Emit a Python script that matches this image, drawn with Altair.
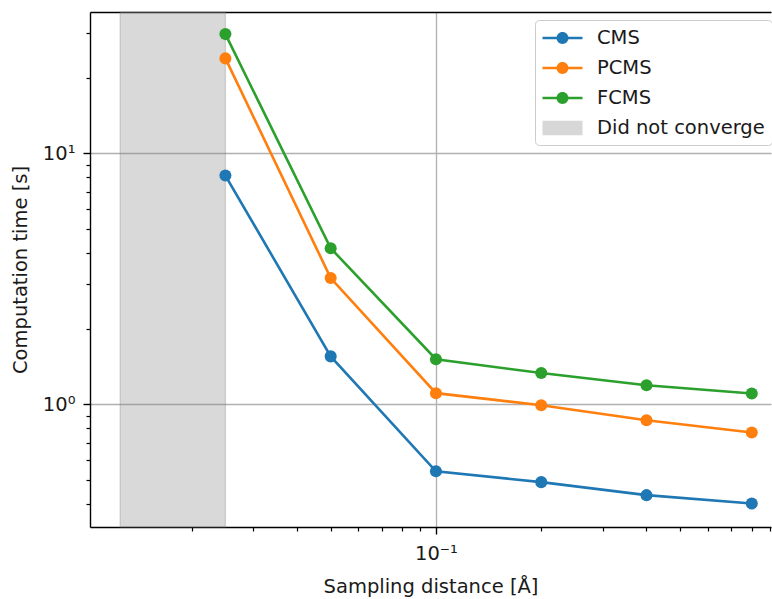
import altair as alt
import pandas as pd

# ---- data ----
sampling = [0.025, 0.05, 0.1, 0.2, 0.4, 0.8]
cms = [8.14, 1.55, 0.540, 0.489, 0.434, 0.402]
pcms = [23.85, 3.18, 1.106, 0.99, 0.863, 0.771]
fcms = [29.8, 4.18, 1.51, 1.33, 1.19, 1.103]
series_names = ["CMS", "PCMS", "FCMS"]
span_label = "Did not converge"
span_start = [0.0125]
span_end = [0.025]

x_major = [0.1]
x_minor = [0.02, 0.03, 0.04, 0.05, 0.06, 0.07, 0.08, 0.09,
           0.2, 0.3, 0.4, 0.5, 0.6, 0.7, 0.8, 0.9]
y_major = [1, 10]
y_minor = [0.4, 0.5, 0.6, 0.7, 0.8, 0.9,
           2, 3, 4, 5, 6, 7, 8, 9, 20, 30]

# ---- styles ----
series_colors = ["#1f77b4", "#ff7f0e", "#2ca02c"]
legend_span_color = "#d7d7d7"
span_color = "#808080"
FONT = "DejaVu Sans"
FS = 19.5
TXT = "#1a1a1a"

# legend handles (unit square scaled by 11 px; drawn 40 px wide)
line_sym = ("M-0.955,-0.118H2.682V0.118H-0.955Z "
            "M1.409,0A0.545,0.545,0,1,1,0.319,0A0.545,0.545,0,1,1,1.409,0Z")
rect_sym = "M-0.955,-0.655H2.682V0.655H-0.955Z"

rows = []
for name, vals in zip(series_names, [cms, pcms, fcms]):
    for xv, yv in zip(sampling, vals):
        rows.append({"d": xv, "t": yv, "series": name})
df = pd.DataFrame(rows)
span_df = pd.DataFrame({"start": span_start, "end": span_end})
legend_df = pd.DataFrame({"series": series_names + [span_label]})

x_scale = alt.Scale(type="log", domain=[0.01025, 0.908], nice=False)
y_scale = alt.Scale(type="log", domain=[0.324, 36.5], nice=False)
line_color_scale = alt.Scale(domain=series_names, range=series_colors)
legend_color_scale = alt.Scale(domain=series_names + [span_label],
                               range=series_colors + [legend_span_color])
shape_scale = alt.Scale(domain=series_names + [span_label],
                        range=[line_sym, line_sym, line_sym, rect_sym])

common_axis = dict(domainColor="black", domainWidth=1.4, tickColor="black",
                   tickWidth=1.4, labelFont=FONT, labelFontSize=FS,
                   labelColor=TXT, titleFont=FONT, titleFontSize=FS,
                   titleFontWeight="normal", titleColor=TXT,
                   labelFlush=False, labelOverlap=False)

x_major_axis = alt.Axis(orient="bottom", values=x_major,
                        labelExpr="'10⁻¹'", grid=True, gridColor="#b0b0b0",
                        gridWidth=1.3, tickSize=7, labelPadding=10,
                        title="Sampling distance [Å]", titlePadding=15,
                        **common_axis)
x_minor_axis = alt.Axis(orient="bottom", values=x_minor, labels=False,
                        grid=False, domain=False, tickSize=4, title=None,
                        tickColor="black", tickWidth=1.2)
x_top_axis = alt.Axis(orient="top", labels=False, ticks=False, grid=False,
                      domain=True, domainColor="black", domainWidth=1.4,
                      title=None)
y_major_axis = alt.Axis(orient="left", values=y_major,
                        labelExpr="datum.value >= 5 ? '10¹' : '10⁰'",
                        grid=True, gridColor="#b0b0b0", gridWidth=1.3,
                        tickSize=7, labelPadding=8,
                        title="Computation time [s]", titlePadding=12,
                        **common_axis)
y_minor_axis = alt.Axis(orient="left", values=y_minor, labels=False,
                        grid=False, domain=False, tickSize=4, title=None,
                        tickColor="black", tickWidth=1.2)

span = alt.Chart(span_df).mark_rect(
    fill=span_color, fillOpacity=0.3, stroke=span_color, strokeOpacity=0.3,
    strokeWidth=1.3
).encode(
    x=alt.X("start:Q", scale=x_scale, axis=x_top_axis),
    x2="end:Q",
)

lines = alt.Chart(df).mark_line(strokeWidth=2.6, clip=True).encode(
    x=alt.X("d:Q", scale=x_scale, axis=x_major_axis),
    y=alt.Y("t:Q", scale=y_scale, axis=y_major_axis),
    color=alt.Color("series:N", scale=line_color_scale, legend=None),
    detail="series:N",
)

points = alt.Chart(df).mark_circle(size=145, opacity=1, clip=True).encode(
    x=alt.X("d:Q", scale=x_scale, axis=x_minor_axis),
    y=alt.Y("t:Q", scale=y_scale, axis=y_minor_axis),
    color=alt.Color("series:N", scale=line_color_scale, legend=None),
)

lp = dict(
    title=None, orient="none", legendX=445, legendY=8,
    symbolSize=484, symbolOpacity=1, symbolStrokeWidth=0,
    labelFont=FONT, labelFontSize=FS, labelColor=TXT, labelOffset=33,
    rowPadding=9, padding=7, fillColor="white", strokeColor="#cccccc",
    cornerRadius=4, labelLimit=400,
)

legend_layer = alt.Chart(legend_df).mark_point(
    filled=True, opacity=0.001
).encode(
    color=alt.Color("series:N", scale=legend_color_scale,
                    legend=alt.Legend(**lp)),
    shape=alt.Shape("series:N", scale=shape_scale, legend=alt.Legend(**lp)),
)

chart = alt.layer(span, lines, points, legend_layer).resolve_axis(
    x="independent", y="independent"
).resolve_scale(
    color="independent", shape="independent"
).properties(
    width=681, height=515,
    padding={"left": 90, "top": 12, "right": 1, "bottom": 72},
    autosize=alt.AutoSizeParams(type="none"),
).configure_view(stroke=None)

chart.save("out.html", embed_options={"renderer": "svg", "actions": False})
